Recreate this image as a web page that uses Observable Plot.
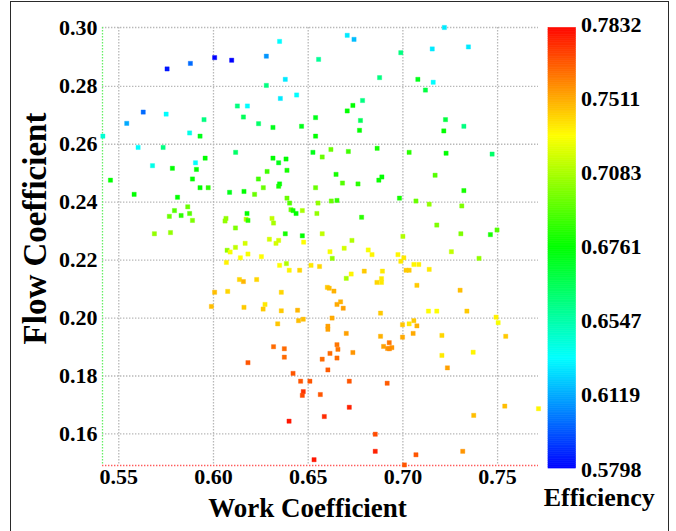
<!DOCTYPE html>
<html>
<head>
<meta charset="utf-8">
<script src="https://cdn.jsdelivr.net/npm/d3@7"></script>
<script src="https://cdn.jsdelivr.net/npm/@observablehq/plot@0.6"></script>
<style>
  html, body { margin: 0; padding: 0; background: #fff; overflow: hidden; }
  #chart { position: relative; width: 676px; height: 531px; overflow: hidden; background: #fff; }
  #main { position: absolute; left: 0; top: 0; }
  #bar { position: absolute; left: 540px; top: 0; }
  #border { position: absolute; left: 10px; top: 1px; width: 657px; height: 580px;
            border: 1.6px solid #2a2a2a; z-index: 2; pointer-events: none; }
</style>
</head>
<body>
<div id="chart">
  <div id="main"></div>
  <div id="bar"></div>
  <div id="border"></div>
</div>
<script>
// Work coefficient of each design sample
const workCoef = [
  0.6349, 0.6006, 0.6096, 0.6279, 0.5878, 0.5755, 0.6555, 0.6379, 0.6279, 0.6439,
  0.6353, 0.6126, 0.6179, 0.6158, 0.5629, 0.5750, 0.5542, 0.5950, 0.6238, 0.6314,
  0.6465, 0.6539, 0.6539, 0.5416, 0.5874, 0.5929, 0.5602, 0.5734, 0.6525, 0.6117,
  0.5956, 0.6314, 0.6383, 0.6344, 0.5678, 0.5905, 0.5783, 0.5910, 0.6706, 0.6742,
  0.7219, 0.7346, 0.7155, 0.6989, 0.6877, 0.7079, 0.7160, 0.7119, 0.6787, 0.6736,
  0.6706, 0.6776, 0.7225, 0.7322, 0.6771, 0.7216, 0.6620, 0.6712, 0.6864, 0.6574,
  0.7033, 0.7228, 0.7471, 0.6283, 0.6388, 0.5456, 0.5889, 0.6237, 0.5929, 0.5972,
  0.6263, 0.6349, 0.6344, 0.6539, 0.5581, 0.5810, 0.6085, 0.6161, 0.6217, 0.6388,
  0.6552, 0.6402, 0.5864, 0.5794, 0.5874, 0.5829, 0.5767, 0.5889, 0.6409, 0.6420,
  0.6436, 0.6469, 0.6546, 0.6177, 0.6066, 0.6061, 0.6172, 0.6182, 0.6309, 0.6317,
  0.6116, 0.5688, 0.5773, 0.6379, 0.6469, 0.6476, 0.6295, 0.6344, 0.6330, 0.6167,
  0.6116, 0.6072, 0.6088, 0.6182, 0.6253, 0.6142, 0.6385, 0.6068, 0.6349, 0.6400,
  0.6455, 0.6515, 0.6560, 0.6137, 0.6158, 0.6228, 0.6006, 0.6075, 0.6358, 0.5989,
  0.6161, 0.6272, 0.6262, 0.6358, 0.6444, 0.6647, 0.6889, 0.6873, 0.7170, 0.6681,
  0.6763, 0.7322, 0.6982, 0.6622, 0.6652, 0.7069, 0.7139, 0.7311, 0.6782, 0.7179,
  0.6574, 0.7306, 0.7462, 0.7497, 0.7000, 0.6731, 0.6615, 0.6690, 0.6817, 0.6837,
  0.6627, 0.6974, 0.7005, 0.6989, 0.7256, 0.7402, 0.6727, 0.6701, 0.6796, 0.6892,
  0.6863, 0.6887, 0.6887, 0.7017, 0.7033, 0.7058, 0.7084, 0.7139, 0.7074, 0.7302,
  0.6601, 0.6611, 0.6636, 0.6652, 0.6671, 0.6685, 0.6339, 0.6449, 0.6474, 0.6317,
  0.6374, 0.6374, 0.6182, 0.6420, 0.6460, 0.6509, 0.6474, 0.6469, 0.6564, 0.6399,
  0.6531, 0.6882, 0.7135, 0.7179, 0.7338, 0.7492, 0.7503, 0.7543, 0.6626, 0.6604,
  0.6604, 0.6701, 0.6882, 0.6998, 0.7033, 0.7058, 0.7074, 0.7054, 0.6998, 0.7206,
  0.6652, 0.6657, 0.6615, 0.6736, 0.6574, 0.6652, 0.6604, 0.6898, 0.6928, 0.6919,
  0.6942, 0.6929, 0.7206, 0.7371, 0.7235, 0.6717, 0.6917, 0.6717, 0.6585, 0.6854,
  0.6854, 0.7069, 0.7316, 0.7538, 0.7374, 0.7716, 0.7008
];

// Flow coefficient of each design sample
const flowCoef = [
  0.2955, 0.2899, 0.2890, 0.2904, 0.2879, 0.2860, 0.2893, 0.2824, 0.2803, 0.2770,
  0.2758, 0.2732, 0.2732, 0.2694, 0.2711, 0.2704, 0.2672, 0.2685, 0.2671, 0.2658,
  0.2662, 0.2692, 0.2628, 0.2628, 0.2639, 0.2628, 0.2589, 0.2589, 0.2572, 0.2572,
  0.2552, 0.2552, 0.2549, 0.2536, 0.2526, 0.2536, 0.2517, 0.2513, 0.2976, 0.2962,
  0.3003, 0.2936, 0.2929, 0.2916, 0.2830, 0.2824, 0.2814, 0.2787, 0.2751, 0.2734,
  0.2715, 0.2682, 0.2685, 0.2662, 0.2648, 0.2646, 0.2582, 0.2575, 0.2586, 0.2556,
  0.2572, 0.2569, 0.2566, 0.2506, 0.2510, 0.2476, 0.2480, 0.2480, 0.2450, 0.2450,
  0.2450, 0.2463, 0.2455, 0.2450, 0.2427, 0.2417, 0.2434, 0.2437, 0.2427, 0.2414,
  0.2397, 0.2397, 0.2384, 0.2371, 0.2361, 0.2354, 0.2351, 0.2337, 0.2374, 0.2371,
  0.2361, 0.2371, 0.2361, 0.2361, 0.2344, 0.2335, 0.2341, 0.2337, 0.2344, 0.2328,
  0.2311, 0.2291, 0.2295, 0.2291, 0.2284, 0.2262, 0.2272, 0.2268, 0.2258, 0.2258,
  0.2244, 0.2234, 0.2228, 0.2221, 0.2212, 0.2208, 0.2188, 0.2192, 0.2182, 0.2165,
  0.2165, 0.2182, 0.2178, 0.2133, 0.2126, 0.2133, 0.2089, 0.2092, 0.2089, 0.2040,
  0.2037, 0.2047, 0.2031, 0.2025, 0.2027, 0.2496, 0.2487, 0.2476, 0.2493, 0.2466,
  0.2463, 0.2440, 0.2414, 0.2404, 0.2406, 0.2404, 0.2393, 0.2387, 0.2348, 0.2321,
  0.2291, 0.2291, 0.2288, 0.2304, 0.2282, 0.2268, 0.2229, 0.2241, 0.2235, 0.2219,
  0.2206, 0.2219, 0.2208, 0.2196, 0.2229, 0.2206, 0.2152, 0.2137, 0.2162, 0.2162,
  0.2123, 0.2123, 0.2136, 0.2165, 0.2165, 0.2185, 0.2185, 0.2168, 0.2113, 0.2096,
  0.2106, 0.2103, 0.2093, 0.2047, 0.2056, 0.2034, 0.1980, 0.1991, 0.1996, 0.1901,
  0.1894, 0.1865, 0.1846, 0.1809, 0.1782, 0.1782, 0.1746, 0.1733, 0.1736, 0.1644,
  0.1511, 0.2017, 0.2024, 0.2024, 0.2024, 0.2003, 0.1984, 0.1937, 0.2000, 0.1972,
  0.1961, 0.1947, 0.1937, 0.1977, 0.1980, 0.1991, 0.1973, 0.1947, 0.1934, 0.1940,
  0.1908, 0.1892, 0.1878, 0.1881, 0.1858, 0.1862, 0.1821, 0.1902, 0.1915, 0.1895,
  0.1898, 0.1894, 0.1871, 0.1882, 0.1828, 0.1782, 0.1775, 0.1692, 0.1660, 0.1599,
  0.1540, 0.1528, 0.1540, 0.1696, 0.1664, 0.1687, 0.1493
];

// Efficiency of each design sample
const efficiency = [
  0.633, 0.580, 0.580, 0.608, 0.600, 0.584, 0.657, 0.628, 0.660, 0.633,
  0.628, 0.660, 0.633, 0.665, 0.600, 0.633, 0.612, 0.660, 0.663, 0.673,
  0.673, 0.673, 0.676, 0.644, 0.639, 0.673, 0.633, 0.660, 0.673, 0.663,
  0.676, 0.676, 0.676, 0.673, 0.639, 0.633, 0.676, 0.676, 0.628, 0.617,
  0.628, 0.628, 0.628, 0.660, 0.660, 0.673, 0.633, 0.668, 0.660, 0.676,
  0.676, 0.665, 0.668, 0.660, 0.676, 0.676, 0.696, 0.688, 0.680, 0.696,
  0.684, 0.676, 0.663, 0.688, 0.680, 0.676, 0.676, 0.688, 0.676, 0.684,
  0.696, 0.676, 0.680, 0.696, 0.676, 0.676, 0.673, 0.676, 0.696, 0.696,
  0.704, 0.692, 0.696, 0.692, 0.692, 0.684, 0.696, 0.700, 0.696, 0.680,
  0.676, 0.708, 0.704, 0.676, 0.704, 0.704, 0.714, 0.684, 0.714, 0.708,
  0.700, 0.704, 0.704, 0.680, 0.676, 0.730, 0.719, 0.719, 0.719, 0.719,
  0.714, 0.704, 0.728, 0.728, 0.730, 0.730, 0.710, 0.733, 0.730, 0.732,
  0.740, 0.735, 0.740, 0.740, 0.748, 0.740, 0.746, 0.740, 0.740, 0.746,
  0.743, 0.735, 0.743, 0.743, 0.748, 0.680, 0.676, 0.678, 0.692, 0.692,
  0.684, 0.680, 0.680, 0.696, 0.686, 0.696, 0.704, 0.700, 0.684, 0.700,
  0.714, 0.700, 0.680, 0.692, 0.710, 0.710, 0.728, 0.719, 0.728, 0.732,
  0.704, 0.732, 0.735, 0.735, 0.714, 0.704, 0.732, 0.708, 0.743, 0.735,
  0.740, 0.735, 0.735, 0.743, 0.743, 0.732, 0.733, 0.735, 0.743, 0.746,
  0.743, 0.746, 0.749, 0.751, 0.749, 0.753, 0.744, 0.746, 0.746, 0.763,
  0.763, 0.763, 0.767, 0.767, 0.767, 0.767, 0.774, 0.769, 0.767, 0.779,
  0.779, 0.743, 0.730, 0.730, 0.743, 0.733, 0.728, 0.743, 0.751, 0.753,
  0.753, 0.753, 0.749, 0.744, 0.735, 0.743, 0.749, 0.751, 0.751, 0.740,
  0.761, 0.761, 0.763, 0.755, 0.763, 0.763, 0.766, 0.753, 0.761, 0.755,
  0.755, 0.757, 0.735, 0.732, 0.753, 0.767, 0.766, 0.777, 0.775, 0.769,
  0.777, 0.767, 0.755, 0.746, 0.746, 0.732, 0.767
];

// Axis ticks and colour-bar labels
const xTicks = [0.55, 0.60, 0.65, 0.70, 0.75];
const yTicks = [0.16, 0.18, 0.20, 0.22, 0.24, 0.26, 0.28, 0.30];
const effTicks = [0.5798, 0.6119, 0.6547, 0.6761, 0.7083, 0.7511, 0.7832];
const rampColors = ["#0000ff", "#00aaff", "#00ffaa", "#00ff00", "#aaff00", "#ffaa00", "#ff0000"];

const xDomain = [0.5414, 0.7716];
const yDomain = [0.1491, 0.3003];

const serif = "'Liberation Serif', 'Times New Roman', 'DejaVu Serif', serif";
const points = workCoef.map((x, i) => ({x, y: flowCoef[i], e: efficiency[i]}));

// Rainbow colour scale: the labelled efficiencies sit at evenly spaced hues
const colorScale = {type: "linear", domain: effTicks, range: rampColors, interpolate: "hsl", clamp: true};

const dotted = {strokeDasharray: "1.4,1.6", strokeWidth: 1.3, strokeOpacity: 1};

const main = Plot.plot({
  width: 540,
  height: 531,
  marginLeft: 102,
  marginRight: 2,
  marginTop: 27,
  marginBottom: 66,
  style: {fontFamily: serif, background: "transparent", overflow: "visible", color: "#000"},
  x: {domain: xDomain},
  y: {domain: yDomain},
  color: colorScale,
  marks: [
    Plot.gridX(xTicks, {stroke: "#b8b8b8", ...dotted}),
    Plot.gridY(yTicks.filter(v => v < 0.3), {stroke: "#b8b8b8", ...dotted}),
    Plot.ruleY([yDomain[1]], {stroke: "#b8b8b8", ...dotted}),
    Plot.ruleX([xDomain[0]], {stroke: "#66ee66", ...dotted}),
    Plot.ruleY([yDomain[0]], {stroke: "#ff5b5b", ...dotted}),
    Plot.dot(points, {
      x: "x", y: "y", fill: "e", stroke: "e", symbol: "square",
      r: 2.4, strokeWidth: 1, strokeOpacity: 0.35
    }),
    Plot.axisX(xTicks, {
      tickSize: 0, tickPadding: 3, tickFormat: d => d.toFixed(2),
      fontSize: 22, fontWeight: "bold", label: null
    }),
    Plot.axisY(yTicks, {
      tickSize: 0, tickPadding: 5, tickFormat: d => d.toFixed(2),
      fontSize: 22, fontWeight: "bold", label: null
    }),
    Plot.text(["Work Coefficient"], {
      text: d => d, frameAnchor: "bottom", textAnchor: "middle", lineAnchor: "middle",
      dx: -13, dy: 43, fontSize: 27, fontWeight: "bold", fill: "#000"
    }),
    Plot.text(["Flow Coefficient"], {
      text: d => d, frameAnchor: "left", textAnchor: "middle", lineAnchor: "middle",
      rotate: -90, dx: -67, dy: -18, fontSize: 33, fontWeight: "bold", fill: "#000"
    })
  ]
});
document.getElementById("main").appendChild(main);

// Vertical colour bar: thin strips, each filled through the shared colour scale
const indexToEff = d3.scaleLinear().domain(d3.range(effTicks.length)).range(effTicks);
const lo = 0.013, hi = 5.953, N = 240;
const strips = d3.range(N).map(k => {
  const i0 = lo + (hi - lo) * k / N;
  const i1 = lo + (hi - lo) * (k + 1) / N;
  return {i0, i1, e: indexToEff((i0 + i1) / 2)};
});

const bar = Plot.plot({
  width: 136,
  height: 531,
  marginLeft: 8,
  marginRight: 100.5,
  marginTop: 25,
  marginBottom: 59,
  style: {fontFamily: serif, background: "transparent", overflow: "visible", color: "#000"},
  x: {domain: [0, 1], range: [8, 35.5], axis: null},
  y: {domain: [0, effTicks.length - 1], range: [469, 24], axis: null},
  color: colorScale,
  marks: [
    Plot.rect(strips, {x1: 0, x2: 1, y1: "i0", y2: "i1", fill: "e", stroke: "e", strokeWidth: 0.6}),
    Plot.text(effTicks, {
      x: 1, y: (d, i) => i, text: d => d.toFixed(4), textAnchor: "start", dx: 5,
      fontSize: 22, fontWeight: "bold", fill: "#000"
    }),
    Plot.text(["Efficiency"], {
      text: d => d, frameAnchor: "bottom", textAnchor: "middle", lineAnchor: "middle",
      dx: 37, dy: 25, fontSize: 26, fontWeight: "bold", fill: "#000"
    })
  ]
});
document.getElementById("bar").appendChild(bar);
</script>
</body>
</html>
